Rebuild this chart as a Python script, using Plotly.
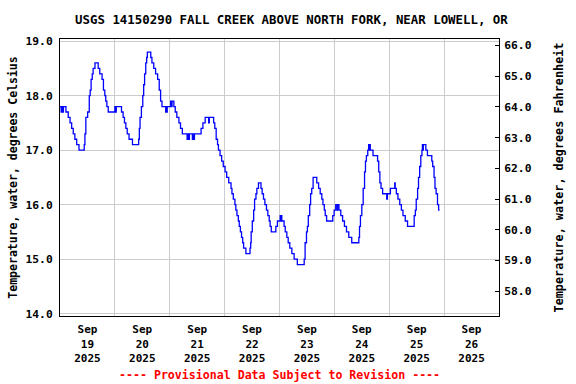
import pandas as pd
import plotly.graph_objects as go

# Hours after 2025-09-19 00:00 at which the reading changes, and the reading (deg C)
hours = [
    0.0, 0.5, 0.9, 1.3, 1.5, 2.6, 3.6, 4.4, 5.1, 5.8, 6.5, 7.3, 8.3,
    10.6, 10.9, 11.3, 12.1, 12.8, 13.2, 13.6, 14.1, 14.5, 15.3,
    16.7, 17.4, 18.4, 19.0, 19.6, 20.0, 20.5, 21.1,
    24.0, 24.3, 24.6, 26.9, 27.6, 28.2, 28.8, 29.4, 30.2, 31.7,
    34.4, 34.7, 35.0, 35.6, 36.2, 36.6, 37.0, 37.5, 37.9, 38.2,
    39.7, 40.2, 41.0, 41.8, 42.7, 43.4, 44.0, 44.6,
    46.2, 46.5, 46.7, 46.9, 48.4, 48.7, 49.0, 49.8, 50.4, 51.1, 52.0, 52.7, 53.5,
    55.6, 55.9, 56.3, 56.6, 57.9, 58.2, 58.5, 58.8,
    61.7, 62.5, 63.5, 65.0, 65.3, 67.2, 67.7, 68.3, 68.9, 69.3,
    70.0, 70.7, 71.4, 72.2, 72.9, 73.8, 74.8, 75.2, 75.8, 76.5, 76.9, 77.4,
    78.0, 78.4, 78.9, 79.4, 79.9, 80.3, 81.3,
    83.1, 83.4, 83.6, 84.1, 84.7, 85.1, 85.7, 86.1, 86.8,
    87.9, 88.4, 89.0, 89.6, 90.3, 90.9, 91.5, 91.9, 92.4,
    94.4, 95.1, 96.3, 96.6, 96.8, 97.0, 98.0, 98.5, 99.2, 99.8, 100.5, 101.4, 102.4, 103.8,
    106.8, 107.2, 107.8, 108.2, 108.6, 109.2, 109.6, 110.1, 110.7,
    112.3, 113.1, 113.8, 114.5, 115.0, 115.6, 116.0, 116.6,
    119.3, 119.9, 120.6, 121.2, 121.4, 122.0, 122.8, 123.6, 124.4, 125.3, 126.3, 127.6,
    130.7, 131.0, 131.4, 132.0, 132.6, 133.2, 133.6, 134.0, 134.6, 135.0, 135.3, 135.5, 135.7,
    136.9, 138.9, 139.4, 139.9, 140.4, 141.1, 142.9, 143.2, 144.5, 146.4, 146.6,
    147.1, 147.8, 148.6, 149.3, 150.0, 151.0, 152.0,
    154.9, 155.4, 155.8, 156.4, 156.8, 157.3, 157.8, 158.3, 158.5, 158.7, 158.9,
    160.0, 160.7, 162.6, 163.0, 163.6, 164.0, 164.5, 165.1, 165.6, 166.0,
]
temp_c = [
    17.8, 17.7, 17.8, 17.7, 17.8, 17.7, 17.6, 17.5, 17.4, 17.3, 17.2, 17.1, 17.0,
    17.1, 17.3, 17.6, 17.7, 18.0, 18.1, 18.3, 18.4, 18.5, 18.6,
    18.5, 18.4, 18.3, 18.1, 18.0, 17.9, 17.8, 17.7,
    17.8, 17.7, 17.8, 17.7, 17.6, 17.5, 17.4, 17.3, 17.2, 17.1,
    17.2, 17.4, 17.6, 17.8, 18.0, 18.2, 18.4, 18.6, 18.7, 18.8,
    18.7, 18.6, 18.5, 18.4, 18.3, 18.1, 17.9, 17.8,
    17.7, 17.8, 17.7, 17.8, 17.9, 17.8, 17.9, 17.8, 17.7, 17.6, 17.5, 17.4, 17.3,
    17.2, 17.3, 17.2, 17.3, 17.2, 17.3, 17.2, 17.3,
    17.4, 17.5, 17.6, 17.5, 17.6, 17.5, 17.4, 17.2, 17.1, 17.0,
    16.9, 16.8, 16.7, 16.6, 16.5, 16.4, 16.3, 16.2, 16.1, 16.0, 15.9, 15.8,
    15.7, 15.6, 15.5, 15.4, 15.3, 15.2, 15.1,
    15.2, 15.3, 15.5, 15.7, 15.9, 16.1, 16.2, 16.3, 16.4,
    16.3, 16.2, 16.1, 16.0, 15.9, 15.8, 15.7, 15.6, 15.5,
    15.6, 15.7, 15.8, 15.7, 15.8, 15.7, 15.6, 15.5, 15.4, 15.3, 15.2, 15.1, 15.0, 14.9,
    15.0, 15.3, 15.5, 15.6, 15.8, 16.0, 16.2, 16.3, 16.5,
    16.4, 16.3, 16.2, 16.1, 16.0, 15.9, 15.8, 15.7,
    15.8, 15.9, 16.0, 15.9, 16.0, 15.9, 15.8, 15.7, 15.6, 15.5, 15.4, 15.3,
    15.4, 15.6, 15.8, 16.0, 16.3, 16.6, 16.8, 16.9, 17.0, 17.1, 17.0, 17.1, 17.0,
    16.9, 16.8, 16.6, 16.4, 16.3, 16.2, 16.1, 16.2, 16.3, 16.4, 16.3,
    16.2, 16.1, 16.0, 15.9, 15.8, 15.7, 15.6,
    15.8, 15.9, 16.1, 16.3, 16.5, 16.7, 16.9, 17.0, 17.1, 17.0, 17.1,
    17.0, 16.9, 16.8, 16.7, 16.5, 16.3, 16.2, 16.0, 15.9, 15.9,
]

day_labels = ["19", "20", "21", "22", "23", "24", "25", "26"]
c_ticks = [14, 15, 16, 17, 18, 19]
f_ticks = [58, 59, 60, 61, 62, 63, 64, 65, 66]

base = pd.Timestamp("2025-09-19 00:00")
times = [base + pd.Timedelta(hours=h) for h in hours]
noons = [base + pd.Timedelta(days=i, hours=12) for i in range(len(day_labels))]

FONT = "DejaVu Sans Mono"

fig = go.Figure()
fig.add_trace(go.Scatter(
    x=times, y=temp_c, mode="lines", line=dict(color="#0000ff", width=1.3, shape="hv"),
    showlegend=False, hoverinfo="skip",
))
fig.add_trace(go.Scatter(x=[base], y=[None], yaxis="y2", showlegend=False, hoverinfo="skip"))

fig.update_layout(
    width=576, height=384,
    margin=dict(l=58, r=77, t=39, b=68),
    paper_bgcolor="white", plot_bgcolor="white",
    title=dict(
        text="USGS 14150290 FALL CREEK ABOVE NORTH FORK, NEAR LOWELL, OR",
        x=0.506, xanchor="center", y=1 - 20 / 384, yanchor="middle",
        font=dict(family=FONT, size=12.4, color="black", weight="bold"),
    ),
    xaxis=dict(
        type="date",
        range=[base, base + pd.Timedelta(days=8)],
        tickmode="array", tickvals=noons,
        ticktext=[f"Sep<br>{d}<br>2025" for d in day_labels],
        showgrid=False, ticks="", showline=True, linecolor="black", linewidth=1, mirror=True,
        ticklabelstandoff=3,
        tickfont=dict(family=FONT, size=11, color="black", weight="bold"),
        minor=dict(tickmode="linear", tick0=base, dtick=86400000, showgrid=True,
                   gridcolor="#cccccc", gridwidth=1, ticks=""),
        zeroline=False,
    ),
    yaxis=dict(
        range=[13.956, 19.04],
        tickmode="array", tickvals=c_ticks, ticktext=[f"{v:.1f}" for v in c_ticks],
        showgrid=True, gridcolor="#cccccc", gridwidth=1,
        showline=True, linecolor="black", linewidth=1, mirror=True, ticks="",
        ticklabelstandoff=4,
        zeroline=False,
        tickfont=dict(family=FONT, size=11.3, color="black", weight="bold"),
        title=dict(text="Temperature, water, degrees Celsius", standoff=5,
                   font=dict(family=FONT, size=11.5, color="black", weight="bold")),
    ),
    yaxis2=dict(
        overlaying="y", side="right", anchor="x",
        range=[57.19, 66.21],
        tickmode="array", tickvals=f_ticks, ticktext=[f"{v:.1f}" for v in f_ticks],
        showgrid=False, zeroline=False,
        showline=True, linecolor="black", linewidth=1,
        ticks="inside", ticklen=4, tickcolor="black",
        ticklabelstandoff=2,
        tickfont=dict(family=FONT, size=11.3, color="black", weight="bold"),
        title=dict(text="Temperature, water, degrees Fahrenheit", standoff=24,
                   font=dict(family=FONT, size=11.8, color="black", weight="bold")),
    ),
    annotations=[dict(
        text="---- Provisional Data Subject to Revision ----",
        xref="paper", yref="paper", x=0.5, y=-0.2146, xanchor="center", yanchor="middle",
        showarrow=False, font=dict(family=FONT, size=11.6, color="#ff0000", weight="bold"),
    )],
)

fig.write_html("out.html", config={"displayModeBar": False},
               post_script="document.body.style.margin='0px';")
